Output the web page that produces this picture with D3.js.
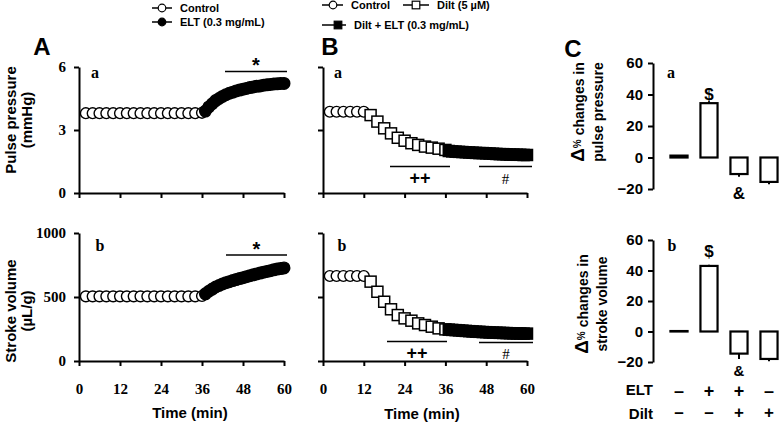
<!DOCTYPE html>
<html>
<head>
<meta charset="utf-8">
<script src="https://cdn.jsdelivr.net/npm/d3@7"></script>
<style>
body { margin: 0; background: #fff; }
svg text { font-family: "Liberation Sans", Arial, sans-serif; font-weight: bold; fill: #000; }
svg text.serif { font-family: "Liberation Serif", "Times New Roman", serif; }
.axis path, .axis line { stroke: #000; stroke-width: 2; }
</style>
</head>
<body>
<svg id="fig" width="779" height="423"></svg>
<script>
// ---- data ----
const timeTicks = [0, 12, 24, 36, 48, 60];

// panel A (control then ELT)
const ctrlTimeA = [2, 4, 6, 8, 10, 12, 14, 16, 18, 20, 22, 24, 26, 28, 30, 32, 34, 36];
const eltTime = [37, 38, 39, 40, 41, 42, 43, 44, 45, 46, 47, 48, 49, 50, 51, 52, 53, 54, 55, 56, 57, 58, 59, 60];
const ppCtrlA = [3.8, 3.8, 3.8, 3.8, 3.8, 3.8, 3.8, 3.8, 3.8, 3.8, 3.8, 3.8, 3.8, 3.8, 3.8, 3.8, 3.8, 3.82];
const ppEltA = [3.9, 4.1, 4.25, 4.4, 4.5, 4.6, 4.68, 4.75, 4.8, 4.86, 4.9, 4.94, 4.98, 5.02, 5.05, 5.08, 5.1, 5.13, 5.15, 5.17, 5.19, 5.2, 5.22, 5.22];
const svCtrlA = [505, 505, 505, 505, 505, 505, 505, 505, 505, 505, 505, 505, 505, 505, 505, 505, 505, 508];
const svEltA = [525, 545, 562, 578, 590, 602, 612, 620, 628, 636, 644, 651, 659, 666, 673, 680, 687, 694, 700, 706, 712, 718, 722, 727];

// panel B (control, Dilt, Dilt + ELT)
const ctrlTimeB = [2, 4, 6, 8, 10, 12];
const diltTime = [14, 16, 18, 20, 22, 24, 26, 28, 30, 32, 34, 36];
const ppCtrlB = [3.87, 3.87, 3.87, 3.87, 3.87, 3.87];
const ppDiltB = [3.71, 3.4, 3.08, 2.84, 2.63, 2.49, 2.37, 2.29, 2.21, 2.16, 2.11, 2.05];
const ppDiltEltB = [2.0, 1.98, 1.97, 1.96, 1.95, 1.94, 1.93, 1.92, 1.91, 1.9, 1.9, 1.89, 1.88, 1.87, 1.86, 1.85, 1.85, 1.84, 1.83, 1.83, 1.82, 1.82, 1.81, 1.81];
const svCtrlB = [664, 664, 664, 664, 664, 664];
const svDiltB = [620, 541, 463, 404, 359, 333, 315, 294, 281, 268, 255, 247];
const svDiltEltB = [245, 243, 241, 239, 237, 235, 233, 231, 229, 228, 226, 225, 223, 222, 221, 220, 219, 218, 217, 216, 215, 215, 214, 214];

// panel C (% change bars)
const groups = ["ctrl", "elt", "diltElt", "dilt"];
const eltSigns = ["-", "+", "+", "-"];
const diltSigns = ["-", "-", "+", "+"];
const ppChange = [1.2, 34.5, -10.5, -15.5];
const ppChangeErr = [0.3, 1.2, 1.8, 1.5];
const svChange = [0.3, 43, -14.5, -18];
const svChangeErr = [0.3, 0.8, 3.5, 1.5];

const svg = d3.select("#fig");

function styleAxis(g) {
    g.attr("class", "axis");
    g.selectAll("text").attr("class", "serif").style("font-size", "15px").style("font-weight", "bold");
}

function drawMarkers(g, x, y, times, vals, shape, filled) {
    const pts = times.map((t, i) => ({ t: t, v: vals[i] }));
    if (shape === "circle") {
        g.selectAll(null).data(pts).enter().append("circle")
            .attr("cx", d => x(d.t)).attr("cy", d => y(d.v)).attr("r", filled ? 5.8 : 5.4)
            .attr("fill", filled ? "#000" : "#fff").attr("stroke", "#000").attr("stroke-width", 1.4);
    } else {
        g.selectAll(null).data(pts).enter().append("rect")
            .attr("x", d => x(d.t) - 5.5).attr("y", d => y(d.v) - 5.5).attr("width", 11).attr("height", 11)
            .attr("fill", filled ? "#000" : "#fff").attr("stroke", "#000").attr("stroke-width", 1.5);
    }
}

function timePanel(left, right, top, bottom, yMax, yTicks, showYLabels, showXLabels) {
    const x = d3.scaleLinear().domain([0, 60]).range([left, right]);
    const y = d3.scaleLinear().domain([0, yMax]).range([bottom, top]);
    const g = svg.append("g");

    const ya = d3.axisLeft(y).tickValues(yTicks).tickSize(5).tickPadding(8).tickSizeOuter(0)
        .tickFormat(showYLabels ? d3.format("d") : () => "");
    g.append("g").attr("transform", `translate(${left},0)`).call(ya).call(styleAxis);

    const xa = d3.axisBottom(x).tickValues(timeTicks).tickSize(5).tickPadding(17).tickSizeOuter(0)
        .tickFormat(showXLabels ? d3.format("d") : () => "");
    g.append("g").attr("transform", `translate(0,${bottom})`).call(xa).call(styleAxis);

    return { g: g, x: x, y: y };
}

function sigMark(x1, x2, y, label, labelY, size, serif) {
    svg.append("line").attr("x1", x1).attr("x2", x2).attr("y1", y).attr("y2", y)
        .attr("stroke", "#000").attr("stroke-width", 1.5);
    const t = svg.append("text").attr("x", (x1 + x2) / 2).attr("y", labelY)
        .attr("text-anchor", "middle").style("font-size", size + "px").text(label);
    if (serif) t.attr("class", "serif").style("font-weight", "normal");
}

function rotLabel(cx, cy, lines, dy) {
    const t = svg.append("text").attr("transform", `translate(${cx},${cy}) rotate(-90)`)
        .attr("text-anchor", "middle").style("font-size", "15px");
    lines.forEach((l, i) => t.append("tspan").attr("x", 0).attr("y", i * dy).text(l));
    return t;
}

// ---- panel A ----
const aTop = timePanel(79, 284, 67, 193, 6, [0, 3, 6], true, false);
drawMarkers(aTop.g, aTop.x, aTop.y, ctrlTimeA, ppCtrlA, "circle", false);
drawMarkers(aTop.g, aTop.x, aTop.y, eltTime, ppEltA, "circle", true);

const aBot = timePanel(79, 284, 233, 361, 1000, [0, 500, 1000], true, true);
drawMarkers(aBot.g, aBot.x, aBot.y, ctrlTimeA, svCtrlA, "circle", false);
drawMarkers(aBot.g, aBot.x, aBot.y, eltTime, svEltA, "circle", true);

sigMark(225, 287, 71.5, "*", 72, 20, false);
sigMark(226, 287, 255, "*", 256, 20, false);

rotLabel(16, 120, ["Pulse pressure", "(mmHg)"], 16);
rotLabel(16, 311, ["Stroke volume", "(\u00b5L/g)"], 16);

// ---- panel B ----
const bTop = timePanel(323, 527, 67, 193, 6, [0, 3, 6], false, false);
drawMarkers(bTop.g, bTop.x, bTop.y, ctrlTimeB, ppCtrlB, "circle", false);
drawMarkers(bTop.g, bTop.x, bTop.y, diltTime, ppDiltB, "square", false);
drawMarkers(bTop.g, bTop.x, bTop.y, eltTime, ppDiltEltB, "square", true);

const bBot = timePanel(323, 527, 233, 361, 1000, [0, 500, 1000], false, true);
drawMarkers(bBot.g, bBot.x, bBot.y, ctrlTimeB, svCtrlB, "circle", false);
drawMarkers(bBot.g, bBot.x, bBot.y, diltTime, svDiltB, "square", false);
drawMarkers(bBot.g, bBot.x, bBot.y, eltTime, svDiltEltB, "square", true);

sigMark(390, 450, 166.5, "++", 184, 18, false);
sigMark(479, 532, 166.5, "#", 184, 15, true);
sigMark(387, 447, 341.5, "++", 359, 18, false);
sigMark(479, 533, 342.5, "#", 359, 15, true);

// x axis titles
svg.append("text").attr("x", 190).attr("y", 418).attr("text-anchor", "middle").style("font-size", "15px").text("Time (min)");
svg.append("text").attr("x", 422).attr("y", 419).attr("text-anchor", "middle").style("font-size", "15px").text("Time (min)");

// ---- panel C ----
const xb = d3.scaleBand().domain(groups).range([664, 784]).paddingInner(0.43).paddingOuter(0.215);

function barPanel(top, bottom, vals, errs, sig) {
    const y = d3.scaleLinear().domain([-20, 60]).range([bottom, top]);
    const g = svg.append("g");
    g.append("g").attr("transform", "translate(653,0)")
        .call(d3.axisLeft(y).tickValues([-20, 0, 20, 40, 60]).tickSize(5).tickPadding(5).tickSizeOuter(0))
        .attr("class", "axis")
        .selectAll("text").style("font-size", "15px").style("font-weight", "bold")
        .style("font-family", "\"Liberation Sans\", Arial, sans-serif");

    const d = groups.map((k, i) => ({ k: k, v: vals[i], e: errs[i] }));
    g.selectAll(null).data(d).enter().append("line")
        .attr("x1", p => xb(p.k) + xb.bandwidth() / 2).attr("x2", p => xb(p.k) + xb.bandwidth() / 2)
        .attr("y1", p => y(p.v)).attr("y2", p => y(p.v + (p.v >= 0 ? p.e : -p.e)))
        .attr("stroke", "#000").attr("stroke-width", 2);
    g.selectAll(null).data(d).enter().append("rect")
        .attr("x", p => xb(p.k)).attr("width", xb.bandwidth())
        .attr("y", p => y(Math.max(0, p.v))).attr("height", p => Math.abs(y(p.v) - y(0)))
        .attr("fill", "#fff").attr("stroke", "#000").attr("stroke-width", 2.2);

    sig.forEach(s => {
        svg.append("text").attr("x", xb(s.k) + xb.bandwidth() / 2).attr("y", s.y)
            .attr("text-anchor", "middle").style("font-size", s.size + "px").text(s.t);
    });
    return y;
}

barPanel(63, 189, ppChange, ppChangeErr, [{ k: "elt", t: "$", y: 100, size: 17 }, { k: "diltElt", t: "&", y: 199, size: 17 }]);
barPanel(240, 362, svChange, svChangeErr, [{ k: "elt", t: "$", y: 257, size: 17 }, { k: "diltElt", t: "&", y: 376, size: 15 }]);

// ELT / Dilt rows
svg.append("text").attr("x", 653).attr("y", 395).attr("text-anchor", "end").style("font-size", "15px").text("ELT");
svg.append("text").attr("x", 653).attr("y", 419).attr("text-anchor", "end").style("font-size", "15px").text("Dilt");
groups.forEach((k, i) => {
    const cx = xb(k) + xb.bandwidth() / 2;
    svg.append("text").attr("x", cx).attr("y", 397).attr("text-anchor", "middle").style("font-size", "18px").text(eltSigns[i] === "+" ? "+" : "\u2013");
    svg.append("text").attr("x", cx).attr("y", 418).attr("text-anchor", "middle").style("font-size", "17px").text(diltSigns[i] === "+" ? "+" : "\u2013");
});

function deltaLabel(cx, cy, second) {
    const t = svg.append("text").attr("transform", `translate(${cx},${cy}) rotate(-90)`)
        .attr("text-anchor", "middle");
    t.append("tspan").style("font-size", "19px").text("\u0394");
    t.append("tspan").style("font-size", "10px").attr("dy", -3).text("%");
    t.append("tspan").style("font-size", "14px").attr("dy", 3).text(" changes in");
    svg.append("text").attr("transform", `translate(${cx + 19},${cy}) rotate(-90)`)
        .attr("text-anchor", "middle").style("font-size", "14px").text(second);
}
deltaLabel(584, 112, "pulse pressure");
deltaLabel(588, 304, "stroke volume");

// panel letters and sub-labels
[["A", 42], ["B", 330], ["C", 573]].forEach(p => {
    svg.append("text").attr("x", p[1]).attr("y", p[0] === "C" ? 57 : 55).attr("text-anchor", "middle").style("font-size", "24px").text(p[0]);
});
[[95, 78, "a"], [338, 78, "a"], [671, 78, "a"], [100, 251, "b"], [342, 251, "b"], [672, 251, "b"]].forEach(p => {
    svg.append("text").attr("class", "serif").attr("x", p[0]).attr("y", p[1]).attr("text-anchor", "middle").style("font-size", "16px").text(p[2]);
});

// ---- legends ----
function legendItem(x1, x2, mx, y, shape, filled, label) {
    svg.append("line").attr("x1", x1).attr("x2", x2).attr("y1", y).attr("y2", y).attr("stroke", "#000").attr("stroke-width", 1.5);
    if (shape === "circle") {
        svg.append("circle").attr("cx", mx).attr("cy", y).attr("r", 3.8)
            .attr("fill", filled ? "#000" : "#fff").attr("stroke", "#000").attr("stroke-width", 1.2);
    } else {
        svg.append("rect").attr("x", mx - 3.8).attr("y", y - 3.8).attr("width", 7.6).attr("height", 7.6)
            .attr("fill", filled ? "#000" : "#fff").attr("stroke", "#000").attr("stroke-width", 1.2);
    }
    svg.append("text").attr("x", x2 + 8).attr("y", y + 4).style("font-size", "11px").text(label);
}
legendItem(152, 172, 162, 8, "circle", false, "Control");
legendItem(152, 172, 162, 22, "circle", true, "ELT (0.3 mg/mL)");
legendItem(322, 343, 333, 5, "circle", false, "Control");
legendItem(403, 429, 416, 5, "square", false, "Dilt (5 \u00b5M)");
legendItem(322, 346, 338, 25, "square", true, "Dilt + ELT (0.3 mg/mL)");
</script>
</body>
</html>
